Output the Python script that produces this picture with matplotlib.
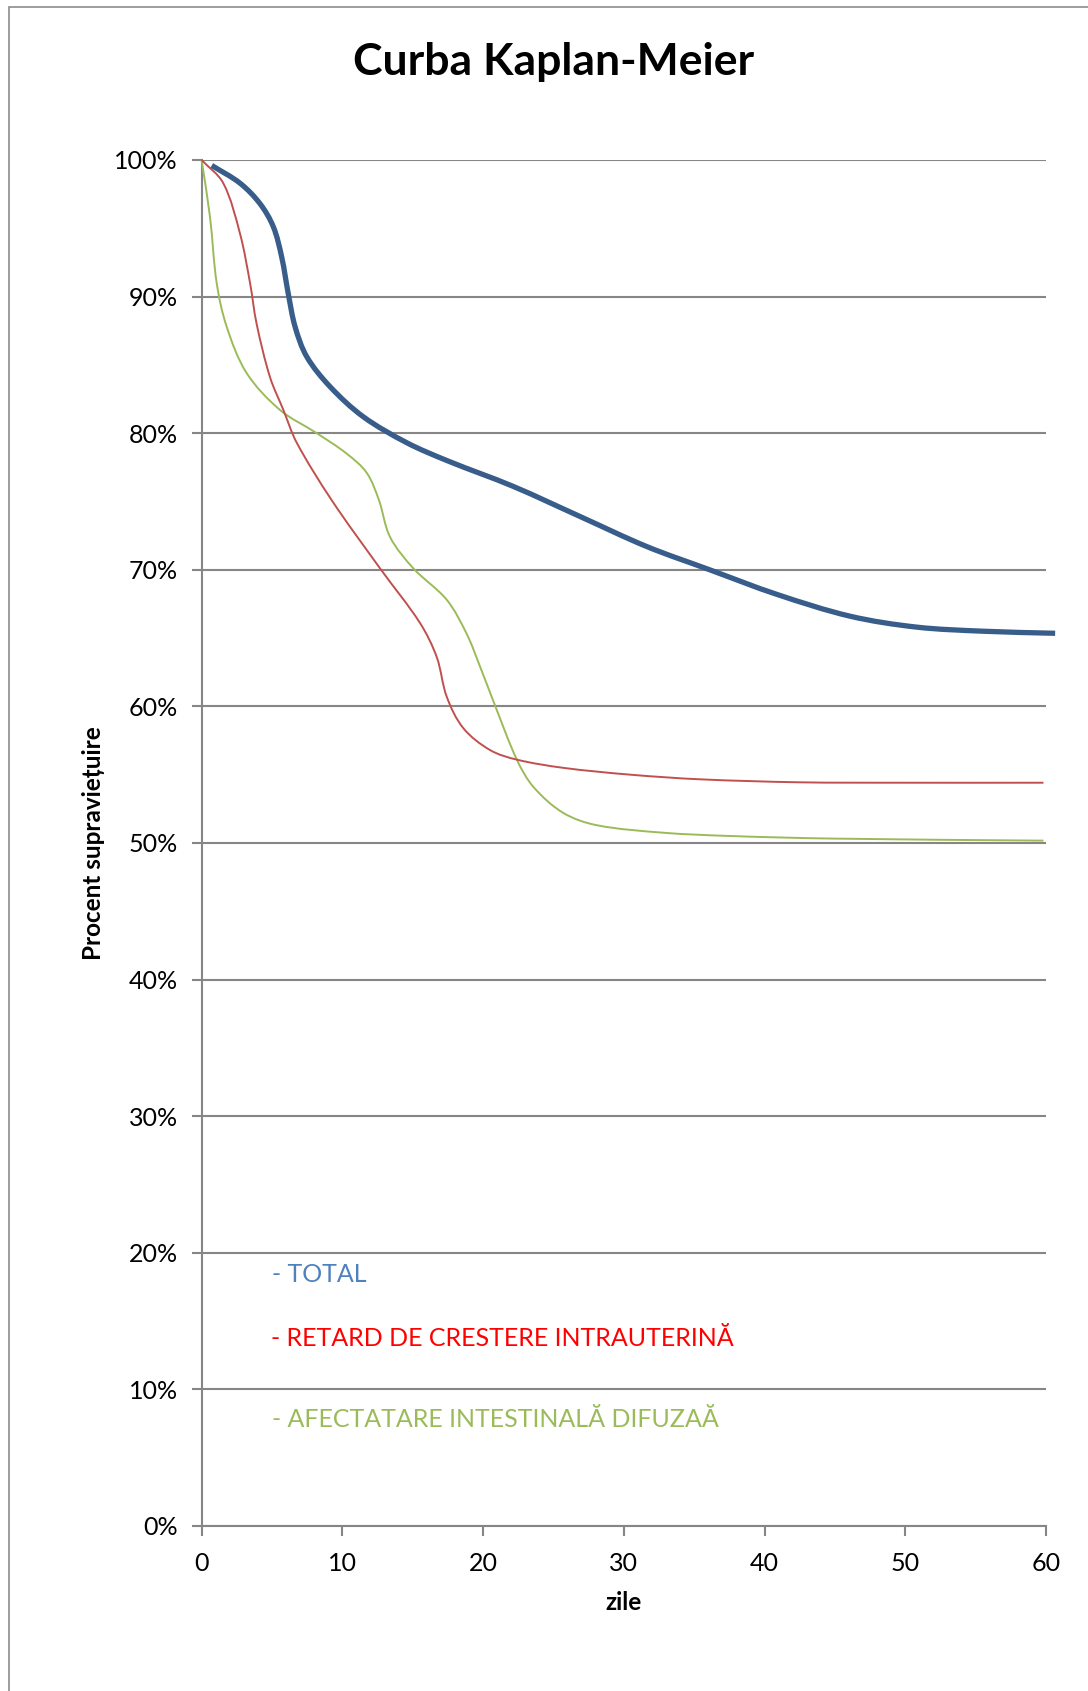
import numpy as np
import matplotlib.pyplot as plt
from matplotlib.path import Path
from matplotlib.patches import PathPatch, Rectangle
from matplotlib.ticker import PercentFormatter, MultipleLocator

plt.rcParams['font.family'] = ['Lato', 'DejaVu Sans']

# survival estimates (fraction surviving) per day
days_total = [0.72, 2.73, 4.15, 5.10, 5.69, 6.16, 6.64, 7.47, 9.13, 11.49,
              14.58, 17.42, 22.15, 26.89, 31.63, 36.1, 40.87, 46.08, 50.82,
              55.56, 60.65]
surv_total = [0.996, 0.983, 0.968, 0.951, 0.929, 0.902, 0.878, 0.856, 0.834,
              0.812, 0.793, 0.780, 0.761, 0.739, 0.717, 0.700, 0.682, 0.666,
              0.658, 0.655, 0.6535]

days_rciu = [0.0, 1.54, 2.73, 3.44, 3.91, 4.86, 5.81, 6.76, 9.24, 12.68, 15.52,
             16.71, 17.42, 18.6, 20.5, 22.4, 25.7, 30.45, 35.42, 42.53, 49.64,
             59.82]
surv_rciu = [1.000, 0.983, 0.946, 0.910, 0.880, 0.841, 0.817, 0.793, 0.751,
             0.701, 0.661, 0.636, 0.607, 0.584, 0.568, 0.561, 0.555, 0.550,
             0.5466, 0.5444, 0.5441, 0.5441]

days_intest = [0.0, 0.60, 1.07, 1.78, 3.20, 5.57, 8.18, 10.31, 11.73, 12.6,
               13.39, 15.05, 17.42, 18.84, 19.79, 20.8, 22.4, 23.58, 25.7,
               28.08, 32.8, 37.55, 44.9, 59.82]
surv_intest = [1.000, 0.958, 0.910, 0.878, 0.844, 0.817, 0.800, 0.785, 0.771,
               0.751, 0.724, 0.701, 0.678, 0.653, 0.629, 0.602, 0.561, 0.541,
               0.522, 0.513, 0.5075, 0.5051, 0.5032, 0.5017]

labels = ['- TOTAL', '- RETARD DE CRESTERE INTRAUTERINĂ',
          '- AFECTATARE INTESTINALĂ DIFUZAĂ']
label_colors = ['#4F81BD', '#FF0000', '#9BBB59']
label_pos = [(5.0, 0.184), (4.9, 0.137), (5.0, 0.078)]


def smooth_path(ax, xs, ys):
    """Smoothed Bezier path through the points, built in display space."""
    pts = ax.transData.transform(np.column_stack([xs, ys]))
    n = len(pts)
    tang = []
    for i in range(n):
        d = pts[min(i + 1, n - 1)] - pts[max(i - 1, 0)]
        tang.append(d / np.hypot(*d))
    verts = [pts[0]]
    codes = [Path.MOVETO]
    for i in range(n - 1):
        seg = np.hypot(*(pts[i + 1] - pts[i])) / 3
        verts += [pts[i] + tang[i] * seg, pts[i + 1] - tang[i + 1] * seg,
                  pts[i + 1]]
        codes += [Path.CURVE4] * 3
    return Path(ax.transData.inverted().transform(np.array(verts)), codes)


fig = plt.figure(figsize=(10.88, 16.91), dpi=100)
ax = fig.add_axes([0.1853, 0.0976, 0.7761, 0.8078])

grid_c = '#868686'
ax.set_xlim(0, 60)
ax.set_ylim(0, 1)
ax.yaxis.set_major_locator(MultipleLocator(0.1))
ax.xaxis.set_major_locator(MultipleLocator(10))
ax.yaxis.set_major_formatter(PercentFormatter(1.0, decimals=0))
ax.grid(axis='y', color=grid_c, linewidth=1.5)
ax.set_axisbelow(True)
for s in ['top', 'right']:
    ax.spines[s].set_visible(False)
for s in ['left', 'bottom']:
    ax.spines[s].set_color(grid_c)
    ax.spines[s].set_linewidth(1.5)
ax.tick_params(axis='both', color=grid_c, width=1.5, length=7,
               labelsize=18, labelcolor='black')
ax.tick_params(axis='x', pad=12)
ax.tick_params(axis='y', pad=10)

for xs, ys, col, lw in [(days_intest, surv_intest, '#9BBB59', 1.4),
                        (days_rciu, surv_rciu, '#C0504D', 1.4),
                        (days_total, surv_total, '#385D8A', 3.8)]:
    patch = PathPatch(smooth_path(ax, xs, ys), facecolor='none',
                      edgecolor=col, linewidth=lw, capstyle='butt',
                      clip_on=False, zorder=3)
    ax.add_patch(patch)

for text, col, (tx, ty) in zip(labels, label_colors, label_pos):
    ax.text(tx, ty, text, color=col, fontsize=18, ha='left', va='center')

ax.set_xlabel('zile', fontsize=17.5, fontweight='bold', labelpad=11)
ax.set_ylabel('Procent supraviețuire', fontsize=17.5, fontweight='bold')
ax.yaxis.set_label_coords(-0.114, 0.5)

fig.text(0.509, 0.9635, 'Curba Kaplan-Meier', fontsize=32, fontweight='bold',
         ha='center', va='center')

# chart area border
fig.patches.append(Rectangle((9 / 1088, -0.01), 1.1, 1 - 7 / 1691 + 0.01,
                             transform=fig.transFigure, fill=False,
                             edgecolor='#8C8C8C', linewidth=1.2))

fig.savefig('out.png', dpi=100)
